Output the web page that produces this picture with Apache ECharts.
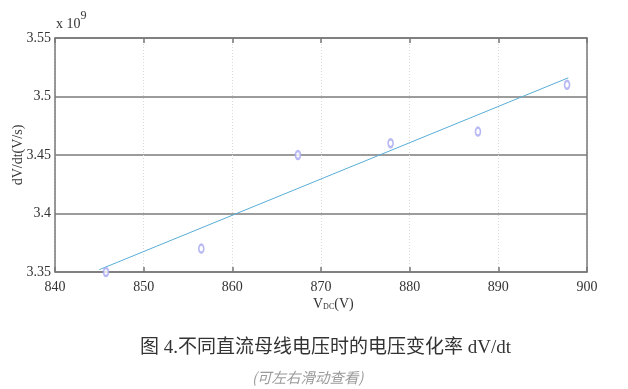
<!DOCTYPE html>
<html><head><meta charset="utf-8">
<script src="https://cdn.jsdelivr.net/npm/echarts@6/dist/echarts.min.js"></script>
<style>html,body{margin:0;padding:0;background:#fff}#c{width:628px;height:389px}</style>
</head><body><div id="c"></div>
<script>
// Measured points: DC bus voltage (V) and dV/dt (x 10^9 V/s)
var vdc = [845.75, 856.5, 867.4, 877.85, 887.7, 897.75];
var dvdt = [3.35, 3.37, 3.45, 3.46, 3.47, 3.51];
// Fitted line endpoints
var fitX = [845.0, 897.9];
var fitY = [3.352, 3.516];
var xTicks = [840, 850, 860, 870, 880, 890, 900];
var yTicks = [3.35, 3.4, 3.45, 3.5, 3.55];

var pts = vdc.map(function(v,i){return [v, dvdt[i]];});
var fit = fitX.map(function(v,i){return [v, fitY[i]];});
var serif = '"Liberation Serif","DejaVu Serif",serif';
var chart = echarts.init(document.getElementById('c'));
chart.setOption({
  animation:false,
  backgroundColor:'#fff',
  grid:{left:55,right:41,top:38,bottom:117,show:false,containLabel:false,outerBoundsMode:'none'},
  xAxis:[{
    type:'value',min:xTicks[0],max:xTicks[xTicks.length-1],interval:10,position:'bottom',
    axisLine:{show:true,onZero:false,lineStyle:{color:'#777',width:1.5}},
    axisTick:{show:true,inside:true,length:5,lineStyle:{color:'#777',width:1.5}},
    axisLabel:{color:'#333',fontFamily:serif,fontSize:14,margin:8},
    splitLine:{show:true,lineStyle:{color:'#d8d8d8',type:[1,2],width:1}}
  },{
    type:'value',min:xTicks[0],max:xTicks[xTicks.length-1],interval:10,position:'top',
    axisLine:{show:true,onZero:false,lineStyle:{color:'#777',width:1.5}},
    axisTick:{show:true,inside:true,length:5,lineStyle:{color:'#777',width:1.5}},
    axisLabel:{show:false},splitLine:{show:false}
  }],
  yAxis:[{
    type:'value',min:yTicks[0],max:yTicks[yTicks.length-1],interval:0.05,
    name:'dV/dt(V/s)',nameLocation:'middle',nameGap:30,nameRotate:90,nameMoveOverlap:false,
    nameTextStyle:{color:'#333',fontFamily:serif,fontSize:14},
    axisLine:{show:true,lineStyle:{color:'#777',width:1.5}},
    axisTick:{show:false},
    axisLabel:{color:'#333',fontFamily:serif,fontSize:14,margin:4,
      formatter:function(v){return String(parseFloat(v.toFixed(2)));}},
    splitLine:{show:true,lineStyle:{color:'#9c9c9c',width:2}}
  },{
    type:'value',min:yTicks[0],max:yTicks[yTicks.length-1],interval:0.05,position:'right',
    axisLine:{show:true,lineStyle:{color:'#777',width:1.5}},
    axisTick:{show:false},axisLabel:{show:false},splitLine:{show:false}
  }],
  series:[{
    type:'line',data:fit,showSymbol:false,symbol:'none',
    lineStyle:{color:'#5aaed6',width:1},z:3
  },{
    type:'scatter',data:pts,symbol:'emptyCircle',symbolSize:[5,8],
    itemStyle:{color:'#a6a6f2',borderWidth:0.8},z:4
  }],
  graphic:[
    {type:'text',left:56,top:10,style:{rich:{a:{fontFamily:serif,fontSize:14,fill:'#333',padding:[8,0,0,0]},b:{fontFamily:serif,fontSize:12,fill:'#333',padding:[0,0,8,0]}},text:'{a|x 10}{b|9}'}},
    {type:'text',left:313,top:297,style:{rich:{a:{fontFamily:serif,fontSize:14,fill:'#333'},b:{fontFamily:serif,fontSize:8,fill:'#333',padding:[5,0,0,0]}},text:'{a|V}{b|DC}{a|(V)}'}},
    {type:'text',left:140,top:339,style:{text:'图 4.不同直流母线电压时的电压变化率 dV/dt',fontFamily:'"Liberation Serif","Noto Sans CJK SC",serif',fontSize:19,fill:'#333'}},
    {type:'text',left:252,top:370,style:{text:'(可左右滑动查看)',fontFamily:'"Noto Sans CJK SC",sans-serif',fontStyle:'italic',fontSize:14.5,fill:'#9a9a9a'}}
  ]
});
</script></body></html>
